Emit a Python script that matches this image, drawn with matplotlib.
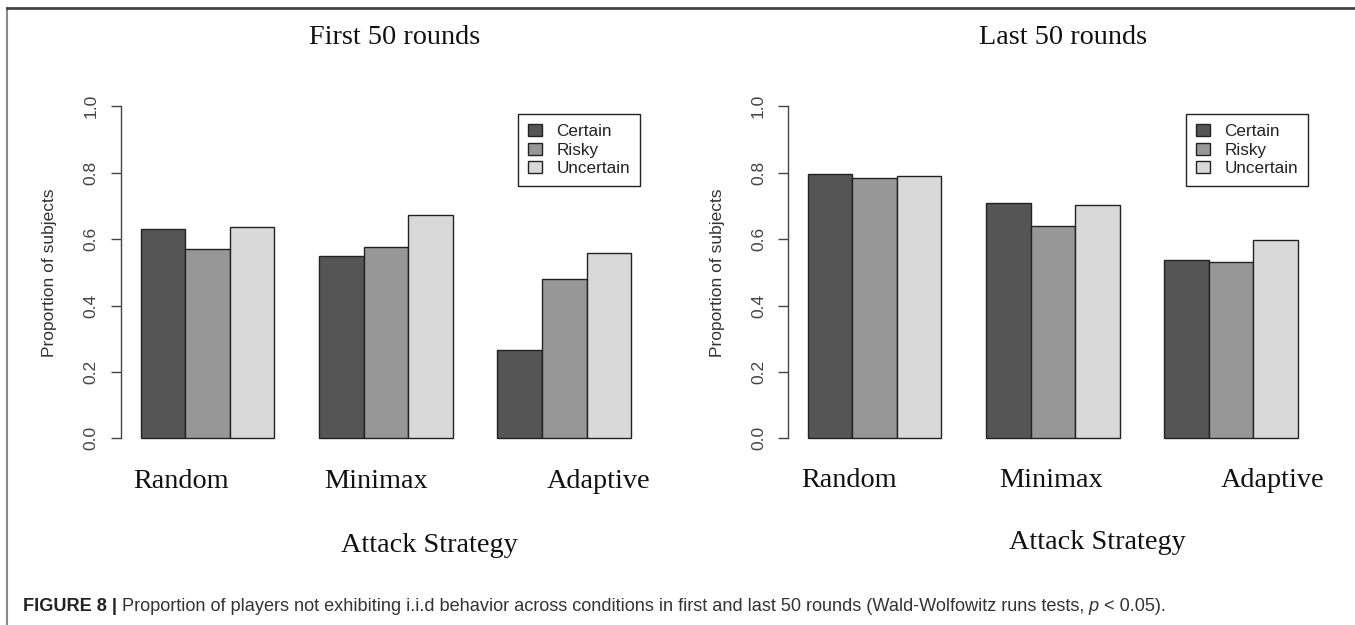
import matplotlib
matplotlib.use('Agg')
import matplotlib.pyplot as plt
from matplotlib.patches import Patch
from matplotlib.lines import Line2D

# ---------------- data ----------------
strategies = ['Random', 'Minimax', 'Adaptive']
conditions = ['Certain', 'Risky', 'Uncertain']
first_certain = [0.631, 0.550, 0.266]
first_risky = [0.569, 0.576, 0.479]
first_uncertain = [0.637, 0.672, 0.559]
last_certain = [0.796, 0.708, 0.537]
last_risky = [0.783, 0.638, 0.531]
last_uncertain = [0.789, 0.702, 0.598]
yticks = [0.0, 0.2, 0.4, 0.6, 0.8, 1.0]
ytick_labels = ['0.0', '0.2', '0.4', '0.6', '0.8', '1.0']
panel_titles = ['First 50 rounds', 'Last 50 rounds']
xlabel = 'Attack Strategy'
ylabel = 'Proportion of subjects'
caption_bold = 'FIGURE 8 |'
caption_main = ' Proportion of players not exhibiting i.i.d behavior across conditions in first and last 50 rounds (Wald-Wolfowitz runs tests,'
caption_italic = ' p'
caption_end = ' < 0.05).'

colors = ['#555555', '#979797', '#d9d9d9']

W, H = 1355, 625
fig = plt.figure(figsize=(W / 100, H / 100), dpi=100)
fig.patch.set_facecolor('white')


def fx(px):
    return px / W


def fy(py):
    return 1 - py / H


SERIF = 'Liberation Serif'
SANS = 'Liberation Sans'

panels = [
    dict(left=121.0, right=650.8, data=[first_certain, first_risky, first_uncertain],
         title_x=394.5, label_xs=[181.5, 376.3, 598.5], label_base=488.3,
         xl_x=429.4, xl_base=551.7, legend_xy=(518, 114), ylab_x=50),
    dict(left=788.3, right=1317.3, data=[last_certain, last_risky, last_uncertain],
         title_x=1063.0, label_xs=[848.7, 1051.0, 1272.6], label_base=486.7,
         xl_x=1097.0, xl_base=549.3, legend_xy=(1186, 114), ylab_x=717),
]

y_top_px = 93.0   # y = 1.04
y_bot_px = 451.6  # y = -0.04

for idx, p in enumerate(panels):
    ax = fig.add_axes([fx(p['left']), fy(y_bot_px), (p['right'] - p['left']) / W,
                       (y_bot_px - y_top_px) / H])
    ax.set_xlim(0.56, 12.44)
    ax.set_ylim(-0.04, 1.04)
    ax.patch.set_alpha(0)
    for j, (vals, col) in enumerate(zip(p['data'], colors)):
        xs = [1 + 4 * g + j + 0.5 for g in range(len(strategies))]
        ax.bar(xs, vals, width=1.0, color=col, edgecolor='#222222', linewidth=1.0,
               label=conditions[j], zorder=2)
    for s in ['top', 'right', 'bottom']:
        ax.spines[s].set_visible(False)
    ax.spines['left'].set_bounds(0, 1)
    ax.spines['left'].set_color('#444444')
    ax.spines['left'].set_linewidth(1.0)
    ax.set_xticks([])
    ax.set_yticks(yticks)
    ax.set_yticklabels(ytick_labels, rotation=90, va='center', ha='right',
                       family=SANS, fontsize=12.5, color='#444444')
    ax.tick_params(axis='y', direction='out', length=7, width=1.0, color='#444444', pad=9)

    handles = [Patch(facecolor=c, edgecolor='#222222', linewidth=1.0) for c in colors]
    leg = fig.legend(handles, conditions, loc='upper left',
                     bbox_to_anchor=(fx(p['legend_xy'][0]), fy(p['legend_xy'][1])),
                     bbox_transform=fig.transFigure, borderaxespad=0,
                     prop={'family': SANS, 'size': 12.3}, frameon=True, fancybox=False,
                     framealpha=1, edgecolor='#222222', handlelength=0.8,
                     handleheight=0.7, handletextpad=0.85, labelspacing=0.2,
                     borderpad=0.6)
    leg.get_frame().set_linewidth(1.0)
    for t in leg.get_texts():
        t.set_color('#222222')

    fig.text(fx(p['title_x']), fy(44.3), panel_titles[idx], ha='center',
             va='baseline', family=SERIF, fontsize=20.3, color='#111111')
    for name, cx in zip(strategies, p['label_xs']):
        fig.text(fx(cx), fy(p['label_base']), name, ha='center', va='baseline',
                 family=SERIF, fontsize=20.3, color='#111111')
    fig.text(fx(p['xl_x']), fy(p['xl_base']), xlabel, ha='center', va='baseline',
             family=SERIF, fontsize=20.3, color='#111111')
    fig.text(fx(p['ylab_x']), fy(272.3), ylabel, ha='center', va='center', rotation=90,
             family=SANS, fontsize=12.5, color='#333333')

# border lines of the figure panel
fig.add_artist(Line2D([fx(7.5), fx(7.5)], [fy(8), 0], color='#8a8a8a', linewidth=1.5))
fig.add_artist(Line2D([fx(7), 1], [fy(8), fy(8)], color='#444444', linewidth=2.0))

# caption
cap_size = 12.0
t1 = fig.text(fx(22.7), fy(610.7), caption_bold, ha='left', va='baseline',
              family=SANS, fontweight='bold', fontsize=cap_size, color='#222222')
t2 = fig.text(0, 0, caption_main, family=SANS, fontsize=cap_size, color='#333333')
t3 = fig.text(0, 0, caption_italic, family=SANS, style='italic', fontsize=cap_size, color='#333333')
t4 = fig.text(0, 0, caption_end, family=SANS, fontsize=cap_size, color='#333333')
cap_parts = [t1, t2, t3, t4]


def place_caption():
    fig.canvas.draw()
    r = fig.canvas.get_renderer()
    x = t1.get_window_extent(r).x1
    for t in cap_parts[1:]:
        t.set_position((x / W, fy(610.7)))
        t.set_ha('left')
        t.set_va('baseline')
        fig.canvas.draw()
        x = t.get_window_extent(r).x1
    return x


end_x = place_caption()
target = 1166.7 - 22.7
width = end_x - 22.7
scale = target / width
for t in cap_parts:
    t.set_fontsize(cap_size * scale)
place_caption()

fig.savefig('out.png', dpi=100, facecolor='white')
